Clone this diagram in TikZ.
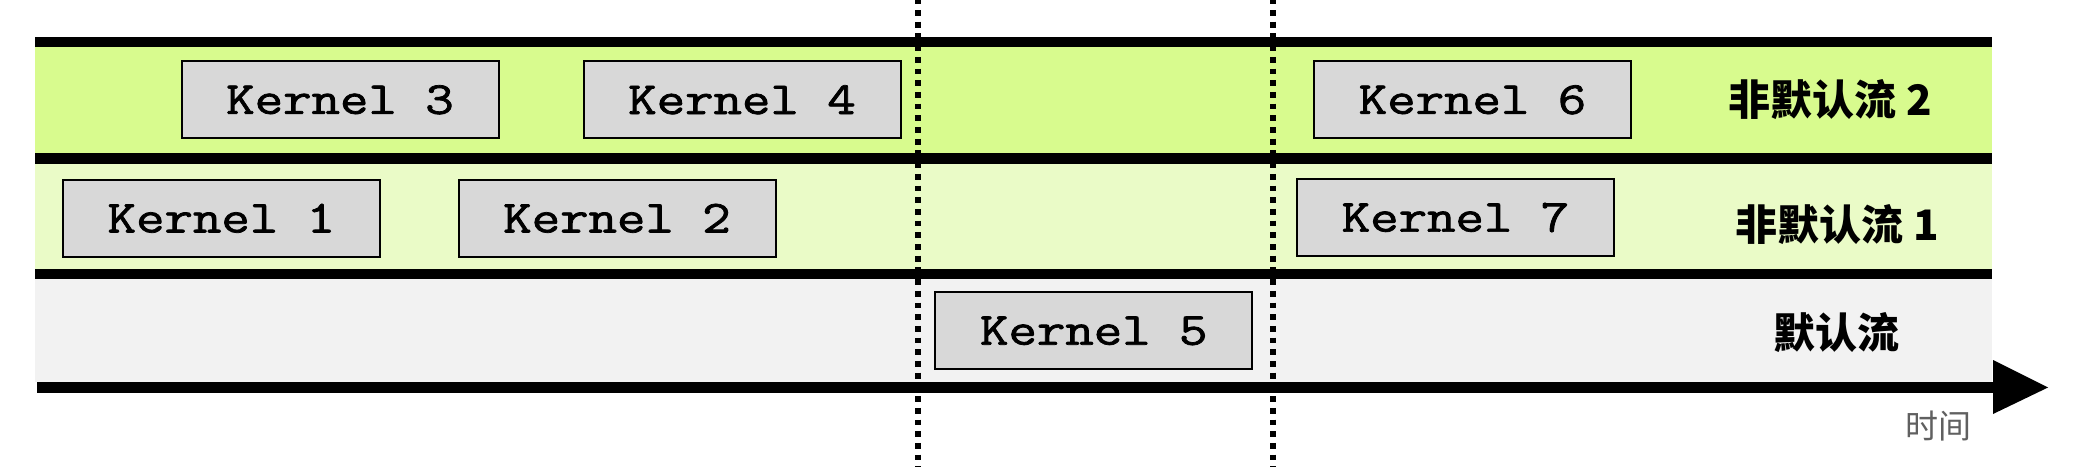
\documentclass[tikz,border=0pt]{standalone}
\usepackage{fontspec}
\newfontfamily\cjkfont{Noto Sans CJK SC}
\newfontfamily\kmono{Latin Modern Mono}[FakeBold=1.6]
\definecolor{bandtwo}{HTML}{D8FB8E}
\definecolor{bandone}{HTML}{EAFBC7}
\definecolor{bandzero}{HTML}{F2F2F2}
\definecolor{boxgray}{HTML}{D8D8D8}
\definecolor{timegray}{HTML}{606060}
\newcommand\kerntext[1]{\scalebox{1.2}[1]{#1}}
\begin{document}
\begin{tikzpicture}[x=1pt,y=-1pt,
  kbox/.style={draw=black, line width=2pt, fill=boxgray, minimum width=317pt,
    minimum height=77pt, inner sep=0pt, font=\kmono\fontsize{46}{50}\selectfont},
  streamlabel/.style={inner sep=0pt, font=\cjkfont\bfseries\fontsize{42}{46}\selectfont},
  bar/.style={fill=black, draw=none},
  syncline/.style={line width=5.5pt, dash pattern=on 5.8pt off 5.9pt}]
\useasboundingbox (0,0) rectangle (2074,466);
% bands
\fill[bandtwo] (35,47.3) rectangle (1992,153.3);
\fill[bandone] (35,164) rectangle (1992,269);
\fill[bandzero] (35,278.7) rectangle (1992,382.3);
% separating bars
\fill[bar] (35,37.3) rectangle (1992,47.3);
\fill[bar] (35,153.3) rectangle (1992,164);
\fill[bar] (35,269) rectangle (1992,278.7);
% time axis
\coordinate (axstart) at (37,387.5);
\coordinate (axend) at (1994,387.5);
\draw[line width=10.4pt] (axstart) -- (axend);
\fill[black] (1993,360) -- (2048,387.5) -- (1993,414) -- cycle;
% sync lines
\coordinate (s1top) at (918,-1.7);
\coordinate (s1bot) at (918,470);
\coordinate (s2top) at (1273,-1.7);
\coordinate (s2bot) at (1273,470);
\draw[syncline] (s1top) -- (s1bot);
\draw[syncline] (s2top) -- (s2bot);
% kernels
\node[kbox] (k3) at (340,99.8) {\kerntext{Kernel 3}};
\node[kbox] (k4) at (742,99.8) {\kerntext{Kernel 4}};
\node[kbox] (k6) at (1472.5,99.8) {\kerntext{Kernel 6}};
\node[kbox] (k1) at (221.4,218.3) {\kerntext{Kernel 1}};
\node[kbox] (k2) at (617,218.3) {\kerntext{Kernel 2}};
\node[kbox] (k7) at (1455.5,217.5) {\kerntext{Kernel 7}};
\node[kbox] (k5) at (1093.8,330.9) {\kerntext{Kernel 5}};
% labels
\node[streamlabel] (l2) at (1830,100) {非默认流 2};
\node[streamlabel] (l1) at (1837,225) {非默认流 1};
\node[streamlabel] (l0) at (1836,333) {默认流};
\node[inner sep=0pt, text=timegray, font=\cjkfont\fontsize{33}{36}\selectfont] (tl) at (1938,426) {时间};
\end{tikzpicture}
\end{document}
